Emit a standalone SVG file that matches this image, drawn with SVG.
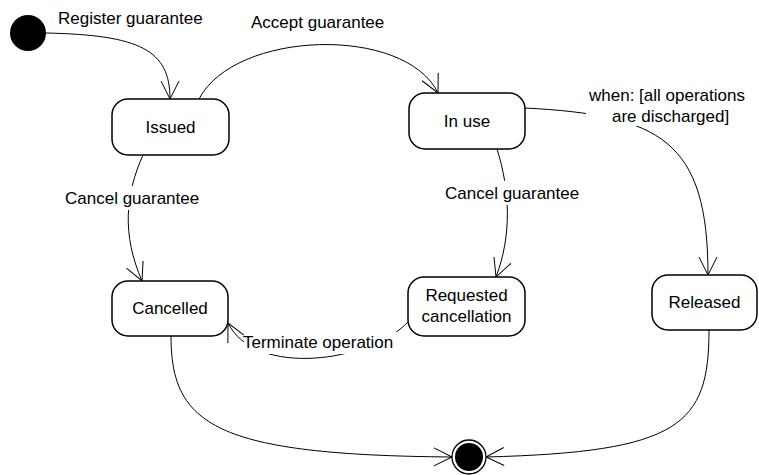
<svg xmlns="http://www.w3.org/2000/svg" width="759" height="475" viewBox="0 0 759 475">
<style>
.st{fill:#fff;stroke:#000;stroke-width:1.5}
.t{font-family:"Liberation Sans",Arial,sans-serif;font-size:17px;fill:#000}
.c{text-anchor:middle}
.ln{fill:none;stroke:#000;stroke-width:1}
.bg{fill:#fff;stroke:none}
</style>
<defs>
<marker id="arr" markerUnits="userSpaceOnUse" markerWidth="24" markerHeight="24" viewBox="-20 -12 22 24" refX="0" refY="0" orient="auto">
<path d="M-18,-9 L0,0 L-18,9" fill="none" stroke="#000" stroke-width="1"/>
</marker>
</defs>
<g id="connectors">
<path class="ln" d="M46,33 C140,35 170,50 170,99" marker-end="url(#arr)"/>
<path class="ln" d="M199,99 C235,30 405,25 438,93" marker-end="url(#arr)"/>
<path class="ln" d="M525,108 C660,115 708,140 708,275" marker-end="url(#arr)"/>
<path class="ln" d="M143,155 C125,195 122,235 142,281" marker-end="url(#arr)"/>
<path class="ln" d="M497,149 C510,190 512,235 496,277" marker-end="url(#arr)"/>
<path class="ln" d="M408,322 C370,362 255,378 228,323" marker-end="url(#arr)"/>
<path class="ln" d="M171,336 C171,425 215,455 452,457" marker-end="url(#arr)"/>
<path class="ln" d="M709,330 C709,425 680,452 486,457" marker-end="url(#arr)"/>
<rect class="bg" x="64" y="186" width="140" height="24"/>
<rect class="bg" x="442" y="181" width="141" height="24"/>
<rect class="bg" x="244" y="332" width="153" height="22"/>
<rect class="bg" x="586" y="86" width="160" height="40"/>
<text class="t" x="58" y="24">Register guarantee</text>
<text class="t" x="251" y="28">Accept guarantee</text>
<text class="t" x="589" y="101">when: [all operations</text>
<text class="t" x="612" y="122">are discharged]</text>
<text class="t" x="65" y="204">Cancel guarantee</text>
<text class="t" x="445" y="199">Cancel guarantee</text>
<text class="t" x="243" y="348">Terminate operation</text>
</g>
<g id="initial">
<circle cx="28" cy="33" r="18" fill="#000"/>
</g>
<g id="issued">
<rect class="st" x="112" y="99" width="117" height="56" rx="16"/>
<text class="t c" x="170.5" y="133">Issued</text>
</g>
<g id="inuse">
<rect class="st" x="409" y="93" width="116" height="56" rx="16"/>
<text class="t c" x="467" y="127">In use</text>
</g>
<g id="cancelled">
<rect class="st" x="112" y="281" width="116" height="55" rx="16"/>
<text class="t c" x="170" y="314">Cancelled</text>
</g>
<g id="requested">
<rect class="st" x="408" y="277" width="117" height="59" rx="16"/>
<text class="t c" x="466.5" y="301">Requested</text>
<text class="t c" x="466.5" y="322">cancellation</text>
</g>
<g id="released">
<rect class="st" x="652" y="275" width="105" height="55" rx="16"/>
<text class="t c" x="704.5" y="308">Released</text>
</g>
<g id="final">
<circle cx="469" cy="457" r="17" fill="#fff" stroke="#000" stroke-width="1.3"/>
<circle cx="469" cy="457" r="14" fill="#000"/>
</g>
</svg>
